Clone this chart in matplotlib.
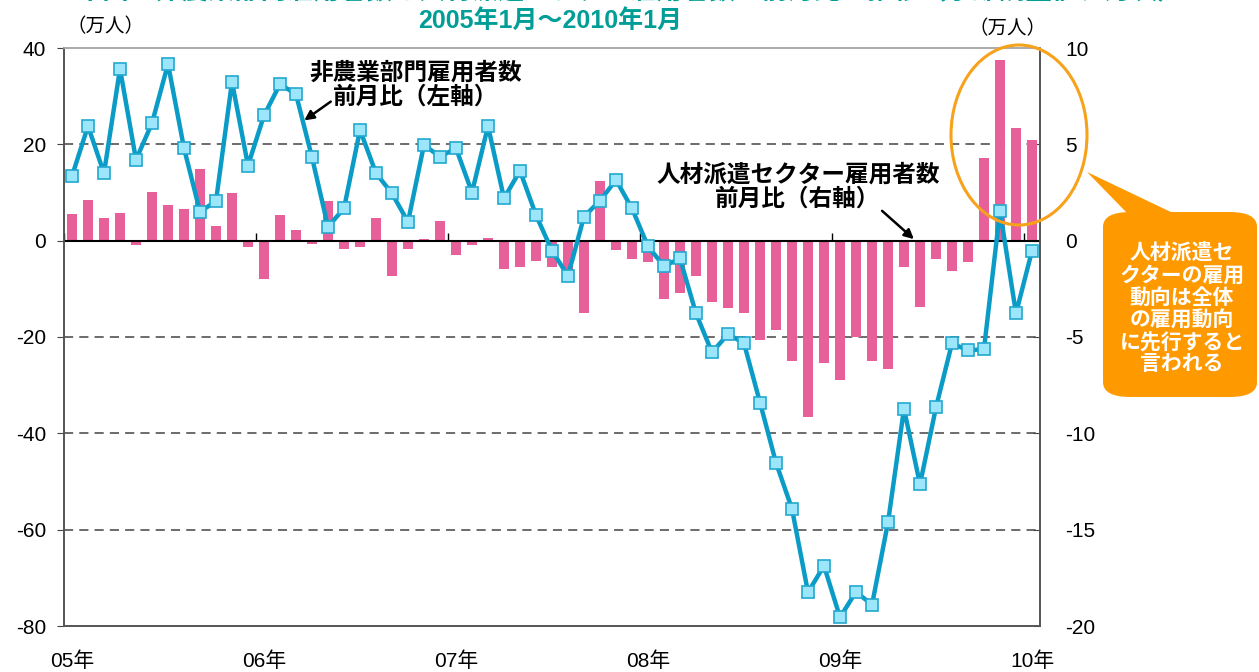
import numpy as np
import matplotlib.pyplot as plt
from matplotlib.patches import Ellipse, FancyBboxPatch, Polygon

plt.rcParams['font.family'] = ['Liberation Sans', 'Noto Sans CJK JP', 'DejaVu Sans']
plt.rcParams['axes.unicode_minus'] = False

# 2005年1月～2010年1月, monthly
nonfarm = [13.4, 23.8, 14.0, 35.7, 16.8, 24.4, 36.7, 19.2, 6.0, 8.2, 33.0, 15.6,
           26.0, 32.5, 30.4, 17.3, 2.9, 6.7, 23.0, 14.0, 9.8, 3.9, 19.9, 17.4,
           19.2, 10.0, 23.8, 8.8, 14.5, 5.3, -2.1, -7.3, 5.0, 8.3, 12.6, 6.7,
           -1.2, -5.3, -3.7, -15.1, -23.2, -19.4, -21.3, -33.6, -46.1, -55.7, -73.0, -67.5,
           -78.2, -72.9, -75.6, -58.5, -34.9, -50.6, -34.6, -21.3, -22.8, -22.5, 6.2, -15.1,
           -2.1]
temp_help = [1.4, 2.1, 1.2, 1.45, -0.25, 2.55, 1.85, 1.65, 3.7, 0.75, 2.5, -0.35,
             -2.0, 1.35, 0.55, -0.15, 2.05, -0.45, -0.35, 1.2, -1.85, -0.45, 0.1, 1.0,
             -0.75, -0.25, 0.15, -1.45, -1.35, -1.05, -1.35, -1.7, -3.75, 3.1, -0.5, -0.95,
             -1.1, -3.05, -2.7, -1.85, -3.2, -3.5, -3.75, -5.15, -4.65, -6.25, -9.15, -6.35,
             -7.25, -5.0, -6.25, -6.65, -1.35, -3.45, -0.95, -1.55, -1.1, 4.3, 9.4, 5.85,
             5.2]
year_labels = ['05年', '06年', '07年', '08年', '09年', '10年']

W, H = 1259, 672
def px(x, y):
    return (x / W, 1 - y / H)

x = np.arange(len(nonfarm))

fig = plt.figure(figsize=(W / 100, H / 100), dpi=100)
axr = fig.add_axes([64 / W, 1 - 626 / H, (1040 - 64) / W, (626 - 48) / H])
axl = axr.twinx()
axl.yaxis.tick_left()
axr.yaxis.tick_right()
axl.set_zorder(axr.get_zorder() + 1)
axl.patch.set_visible(False)

# bars (right axis)
axr.bar(x, temp_help, width=0.66, color='#E8609A', zorder=2)
axr.set_ylim(-20, 10)
axr.set_yticks(np.arange(-20, 11, 5))
axr.set_axisbelow(True)
for v in [-15, -10, -5, 5]:
    axr.axhline(v, color='#444444', lw=1.1, ls=(0, (6, 4)), zorder=1)

# line (left axis)
axl.set_ylim(-80, 40)
axl.set_yticks(np.arange(-80, 41, 20))
axl.axhline(0, color='black', lw=1.5, zorder=1)
axl.vlines(np.arange(-0.5, 61, 12), 0, 1.6, color='black', lw=1.0, zorder=1)
axl.plot(x, nonfarm, color='#0A9CC6', lw=3.2, marker='s', markersize=9,
         markerfacecolor='#9BE6FB', markeredgecolor='#22A8CF', markeredgewidth=1.2, zorder=3)

axr.set_xlim(-0.5, 60.5)
axr.set_xticks(np.arange(0, 61, 12))
axr.set_xticklabels(year_labels)
axr.tick_params(axis='x', length=0, pad=18, labelsize=15)
axr.tick_params(axis='y', length=5, direction='in', pad=18, labelsize=15, color='#444444')
axl.tick_params(axis='y', length=5, direction='out', pad=8, labelsize=15, color='#444444')

for a in (axl, axr):
    for s in a.spines.values():
        s.set_color('#555555')
        s.set_linewidth(1.2)
    a.spines['top'].set_color('#AAAAAA')

# titles and units (first title line is cut off at the top edge, as in the source)
fig.text(*px(630, -8), '米国の非農業部門雇用者数と人材派遣セクター雇用者数の前月比の推移（季節調整値、月次）',
         color='#009E96', fontsize=19, fontweight='bold', ha='center', va='center')
fig.text(*px(550, 21), '2005年1月～2010年1月', color='#009E96', fontsize=18,
         fontweight='bold', ha='center', va='center')
fig.text(*px(106, 27), '（万人）', fontsize=14, ha='center', va='center')
fig.text(*px(1008, 29), '（万人）', fontsize=14, ha='center', va='center')

# annotations
fig.text(*px(416, 85), '非農業部門雇用者数\n前月比（左軸）', fontsize=17, fontweight='bold',
         ha='center', va='center', linespacing=1.1)
fig.text(*px(798, 187), '人材派遣セクター雇用者数\n前月比（右軸）', fontsize=17, fontweight='bold',
         ha='center', va='center', linespacing=1.1)
fig.add_artist(plt.Annotation('', xy=px(302, 122), xytext=px(333, 100),
                              xycoords='figure fraction', textcoords='figure fraction',
                              arrowprops=dict(arrowstyle='-|>', color='black', lw=1.8,
                                              mutation_scale=14)))
fig.add_artist(plt.Annotation('', xy=px(916, 241), xytext=px(880, 209),
                              xycoords='figure fraction', textcoords='figure fraction',
                              arrowprops=dict(arrowstyle='-|>', color='black', lw=1.8,
                                              mutation_scale=14)))

# highlight ellipse and callout
fig.add_artist(Ellipse(px(1019, 135), 136 / W, 180 / H, transform=fig.transFigure,
                       fill=False, edgecolor='#F7A21B', lw=2.2, zorder=5))
fig.add_artist(Polygon([px(1087, 172), px(1128, 214), px(1175, 214)], closed=True,
                       transform=fig.transFigure, facecolor='#FF9900', edgecolor='none', zorder=5))
bx0, by0 = px(1103, 397)
bx1, by1 = px(1257, 212)
fig.add_artist(FancyBboxPatch((bx0, by0), bx1 - bx0, by1 - by0,
                              boxstyle='round,pad=0,rounding_size=0.022',
                              transform=fig.transFigure, facecolor='#FF9900',
                              edgecolor='none', zorder=5))
fig.text(*px(1182, 309), '人材派遣セ\nクターの雇用\n動向は全体\nの雇用動向\nに先行すると\n言われる',
         color='white', fontsize=15, fontweight='bold', ha='center', va='center',
         linespacing=1.15, zorder=6)

fig.savefig('out.png', dpi=100)
